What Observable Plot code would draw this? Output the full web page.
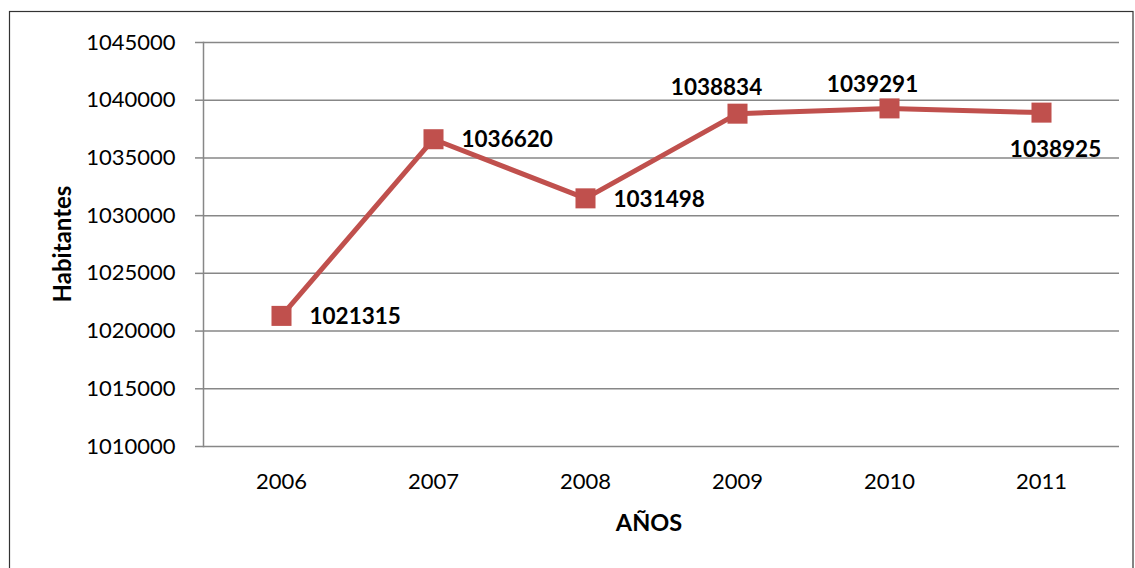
<!DOCTYPE html>
<html>
<head>
<meta charset="utf-8">
<script src="https://cdn.jsdelivr.net/npm/d3@7"></script>
<script src="https://cdn.jsdelivr.net/npm/@observablehq/plot@0.6"></script>
<style>
  html, body { margin: 0; padding: 0; background: #fff; }
  #chart { width: 1135px; height: 568px; overflow: hidden; }
</style>
</head>
<body>
<div id="chart"></div>
<script>
const years = ["2006", "2007", "2008", "2009", "2010", "2011"];
const habitantes = [1021315, 1036620, 1031498, 1038834, 1039291, 1038925];
const yTicks = [1010000, 1015000, 1020000, 1025000, 1030000, 1035000, 1040000, 1045000];
const xTitle = "AÑOS";
const yTitle = "Habitantes";

const data = years.map((year, i) => ({year, value: habitantes[i]}));
const red = "#C0504D";
const gray = "#878787";
const labelFont = {fontFamily: "Lato", fontSize: 22.5, fontWeight: "bold", fill: "#000"};

const right = data.filter(d => ["2006", "2007", "2008"].includes(d.year));
const above9 = data.filter(d => d.year === "2009");
const above10 = data.filter(d => d.year === "2010");
const below = data.filter(d => d.year === "2011");

const plot = Plot.plot({
  width: 1135,
  height: 568,
  marginLeft: 203,
  marginRight: 16,
  marginTop: 42,
  marginBottom: 122,
  style: {fontFamily: "Lato", fontSize: "22px", color: "#000", background: "#fff"},
  x: {type: "band", domain: years, padding: 0, label: null},
  y: {domain: [1010000, 1045000], label: null},
  marks: [
    Plot.gridY(yTicks, {stroke: gray, strokeOpacity: 1, strokeWidth: 1.5}),
    Plot.frame({anchor: "left", stroke: gray, strokeWidth: 1.5}),
    Plot.axisY(yTicks, {tickSize: 8, tickPadding: 20, stroke: gray, strokeWidth: 1.5, fill: "#000", tickFormat: d => String(d), label: null}),
    Plot.axisX({tickSize: 0, tickPadding: 27, fill: "#000", label: null}),
    Plot.line(data, {x: "year", y: "value", stroke: red, strokeWidth: 5}),
    Plot.dot(data, {x: "year", y: "value", symbol: "square", r: 11.3, fill: red, stroke: "none"}),
    Plot.text(right, {x: "year", y: "value", text: d => String(d.value), textAnchor: "start", dx: 28, dy: 1, ...labelFont}),
    Plot.text(above9, {x: "year", y: "value", text: d => String(d.value), dx: -21, dy: -26, ...labelFont}),
    Plot.text(above10, {x: "year", y: "value", text: d => String(d.value), dx: -17, dy: -24, ...labelFont}),
    Plot.text(below, {x: "year", y: "value", text: d => String(d.value), dx: 14, dy: 37, ...labelFont})
  ]
});

const svg = d3.select(plot);
svg.append("text")
  .attr("x", 649).attr("y", 522)
  .attr("text-anchor", "middle").attr("dominant-baseline", "central")
  .attr("font-family", "Lato").attr("font-size", 23.5).attr("font-weight", "bold")
  .text(xTitle);
svg.append("text")
  .attr("transform", "translate(61,244) rotate(-90)")
  .attr("text-anchor", "middle").attr("dominant-baseline", "central")
  .attr("font-family", "Lato").attr("font-size", 24).attr("font-weight", "bold")
  .text(yTitle);
svg.append("rect")
  .attr("x", 9.5).attr("y", 11.5).attr("width", 1123.5).attr("height", 600)
  .attr("fill", "none").attr("stroke", "#333").attr("stroke-width", 1.2);

document.getElementById("chart").appendChild(plot);
</script>
</body>
</html>
